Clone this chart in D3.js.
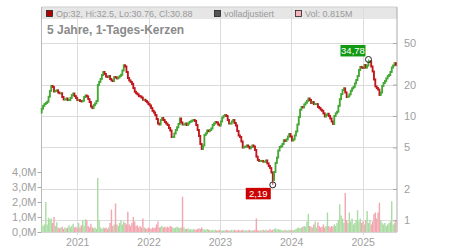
<!DOCTYPE html>
<html>
<head>
<meta charset="utf-8">
<script src="https://cdn.jsdelivr.net/npm/d3@7"></script>
<style>
  body { margin: 0; background: #fff; }
  svg { display: block; font-family: 'Liberation Sans', Arial, sans-serif; }
</style>
</head>
<body>
<div id="chart"></div>
<script>
// weekly closes, first candle week of 2020-07-03
const closes = [
  11.7, 12.5, 13.0, 13.3, 13.7, 15.3, 17.4, 19.4, 19.0, 17.2,
  17.4, 17.6, 16.8, 16.5, 16.5, 15.2, 14.4, 14.4, 14.7, 14.2,
  14.2, 14.9, 15.9, 16.4, 15.5, 14.9, 14.2, 14.2, 13.9, 13.8,
  14.0, 15.2, 15.7, 15.4, 14.5, 13.6, 12.3, 11.9, 12.7, 13.2,
  13.9, 19.8, 21.2, 22.6, 24.7, 26.4, 25.3, 23.9, 23.6, 24.1,
  22.6, 21.9, 21.6, 23.6, 23.4, 22.9, 23.4, 24.1, 24.8, 27.3,
  30.6, 29.8, 26.4, 23.1, 21.9, 21.2, 20.3, 18.5, 17.1, 16.5,
  16.1, 15.5, 15.4, 15.0, 14.3, 14.3, 13.9, 13.5, 13.0, 12.6,
  11.9, 11.2, 10.8, 10.2, 9.36, 8.47, 8.29, 9.15, 9.57, 9.15,
  8.76, 8.47, 8.20, 7.67, 7.26, 6.29, 6.29, 6.80, 7.34, 7.79,
  8.38, 9.46, 8.66, 8.29, 8.29, 8.47, 8.20, 8.47, 8.76, 8.90,
  9.06, 9.15, 8.96, 8.20, 7.34, 6.44, 5.39, 4.83, 5.22, 6.58,
  6.82, 7.26, 7.15, 7.34, 7.59, 8.20, 8.47, 8.76, 8.66, 8.29,
  8.11, 8.86, 9.67, 10.0, 10.2, 10.0, 9.15, 8.47, 8.47, 8.86,
  9.15, 8.57, 8.11, 7.18, 6.51, 6.29, 5.70, 4.99, 5.05, 5.10,
  5.22, 5.08, 4.90, 5.05, 5.22, 5.10, 4.72, 4.08, 3.79, 3.71,
  3.71, 3.71, 3.65, 3.65, 3.75, 3.51, 3.32, 3.17, 2.88, 2.44,
  2.91, 3.55, 4.00, 4.67, 5.05, 5.13, 5.39, 5.85, 5.76, 5.96,
  6.36, 6.72, 6.36, 5.82, 5.96, 6.51, 7.10, 8.29, 9.78, 11.5,
  12.2, 12.1, 12.9, 13.4, 13.9, 14.7, 14.2, 13.3, 13.6, 13.0,
  13.0, 13.0, 12.2, 11.9, 11.5, 11.2, 10.6, 9.89, 10.2, 10.5,
  10.0, 9.46, 8.86, 8.38, 10.0, 10.6, 11.0, 12.5, 14.5, 16.2,
  17.7, 18.4, 16.8, 15.2, 15.4, 16.1, 17.4, 18.4, 19.0, 20.5,
  22.1, 24.1, 27.6, 29.5, 29.1, 28.8, 30.8, 29.1, 30.4, 32.9,
  33.3, 29.8, 26.7, 22.4, 19.2, 18.5, 17.9, 15.9, 16.8, 19.4,
  20.7, 21.6, 22.9, 24.1, 24.7, 26.4, 29.1, 30.4, 32.0, 30.88
];

// volume per candle, millions
const volumes = [
  0.6, 0.4, 0.5, 2.0, 0.5, 0.95, 0.85, 0.9, 0.6, 1.0,
  0.4, 0.65, 0.3, 0.25, 0.3, 0.35, 0.2, 0.3, 0.25, 0.3,
  0.45, 0.3, 0.4, 0.55, 0.3, 0.35, 0.25, 0.6, 0.3, 0.45,
  0.8, 0.4, 0.85, 0.8, 0.4, 0.3, 0.55, 0.3, 0.25, 0.3,
  0.2, 3.6, 0.8, 0.3, 0.2, 0.3, 0.25, 0.3, 0.2, 0.3,
  0.6, 1.5, 0.4, 0.5, 1.9, 0.5, 0.4, 0.6, 0.8, 0.5,
  0.7, 0.6, 0.5, 1.35, 0.5, 0.4, 0.6, 1.0, 0.7, 0.4,
  0.45, 0.3, 0.4, 0.3, 0.9, 0.3, 0.25, 0.2, 0.3, 0.25,
  0.2, 0.3, 0.25, 0.3, 0.5, 0.7, 0.3, 0.35, 0.4, 0.3,
  0.35, 0.3, 0.35, 0.3, 0.4, 0.35, 0.3, 0.25, 0.3, 0.35,
  0.3, 0.25, 0.3, 2.35, 0.3, 0.2, 0.2, 0.25, 0.15, 0.2,
  0.15, 0.2, 0.15, 0.15, 0.2, 0.25, 0.2, 0.3, 0.2, 0.15,
  0.15, 0.2, 0.15, 0.15, 0.1, 0.15, 0.1, 0.15, 0.1, 0.1,
  0.15, 0.1, 0.1, 0.1, 0.1, 0.15, 0.1, 0.1, 0.1, 0.15,
  0.1, 0.15, 0.1, 0.1, 0.15, 0.1, 0.1, 0.15, 0.1, 0.1,
  0.1, 0.1, 0.15, 0.1, 0.1, 0.1, 0.15, 0.9, 0.1, 0.1,
  0.1, 0.1, 0.15, 0.1, 0.15, 0.1, 0.1, 0.2, 0.1, 0.15,
  0.2, 0.25, 0.15, 0.2, 0.15, 0.15, 0.1, 0.1, 0.15, 0.1,
  0.1, 0.15, 0.1, 0.15, 0.1, 0.15, 0.2, 0.25, 0.3, 0.25,
  0.3, 0.35, 0.4, 0.35, 0.7, 1.2, 0.4, 0.35, 0.3, 0.5,
  0.7, 0.3, 0.65, 0.4, 0.3, 0.35, 0.5, 0.3, 0.4, 1.3,
  0.4, 0.3, 0.4, 0.35, 0.5, 0.4, 0.6, 0.8, 1.85, 1.1,
  0.9, 0.6, 2.6, 0.8, 0.6, 1.3, 0.7, 0.9, 0.5, 0.6,
  0.8, 1.45, 0.7, 0.9, 0.6, 0.7, 0.5, 0.8, 1.4, 0.6,
  0.8, 0.5, 0.7, 1.2, 1.3, 0.9, 1.3, 1.95, 0.8, 0.6,
  0.5, 0.6, 0.4, 0.5, 0.6, 0.7, 2.05, 0.5, 0.6, 0.815
];

const firstOpen = 10.8;
const lastCandle = { open: 32, high: 32.5, low: 30.76, close: 30.88, vol: 0.815 };
const lowMark = { index: 169, value: 2.19, label: '2,19' };
const highMark = { index: 239, value: 34.78, label: '34,78' };
const priceTicks = [1, 2, 5, 10, 20, 50];
const volTicks = [0, 1, 2, 3, 4];
const yearTicks = [2021, 2022, 2023, 2024, 2025];
const title = '5 Jahre, 1-Tages-Kerzen';

const totalW = 450, totalH = 250;
const frame = { left: 41.5, right: 397, top: 7, bottom: 232 };

const colors = {
  up: '#44a834', down: '#c0161b',
  volUp: '#a9dca2', volDown: '#f2a6b0',
  grid: '#dcdcdc', axis: '#aaaaaa', label: '#a0a0a0', title: '#8a8a8a'
};

const firstWeek = new Date(2020, 6, 3);
const candles = closes.map((c, i) => {
  const open = i === 0 ? firstOpen : (i === closes.length - 1 ? lastCandle.open : closes[i - 1]);
  let high = Math.max(open, c), low = Math.min(open, c);
  if (i === lowMark.index) low = lowMark.value;
  if (i === highMark.index) high = highMark.value;
  if (i === closes.length - 1) { high = lastCandle.high; low = lastCandle.low; }
  return { date: d3.timeDay.offset(firstWeek, 7 * i), open, close: c, high, low, vol: volumes[i] };
});

const x = d3.scaleTime()
  .domain([new Date(2020, 6, 2), new Date(2025, 5, 26)])
  .range([frame.left, frame.right]);
const y = d3.scaleLog().domain([1, 50]).range([220.4, 43]);
const yVol = d3.scaleLinear().domain([0, 4]).range([frame.bottom, 172]);

const svg = d3.select('#chart').append('svg')
  .attr('width', totalW).attr('height', totalH);

// header band
svg.append('rect')
  .attr('x', frame.left).attr('y', frame.top)
  .attr('width', frame.right - frame.left).attr('height', 12)
  .attr('fill', '#e6e6e6');

// grid
const grid = svg.append('g').attr('stroke', colors.grid).attr('stroke-width', 1);
grid.selectAll('.hg').data(priceTicks).enter().append('line')
  .attr('x1', frame.left).attr('x2', frame.right)
  .attr('y1', d => Math.round(y(d)) + 0.5).attr('y2', d => Math.round(y(d)) + 0.5);
grid.selectAll('.vg').data(yearTicks).enter().append('line')
  .attr('x1', d => Math.round(x(new Date(d, 0, 1))) + 0.5)
  .attr('x2', d => Math.round(x(new Date(d, 0, 1))) + 0.5)
  .attr('y1', frame.top).attr('y2', frame.bottom + 3);

// frame
svg.append('line').attr('x1', frame.left).attr('x2', frame.right)
  .attr('y1', frame.top).attr('y2', frame.top).attr('stroke', '#cfcfcf');
svg.append('line').attr('x1', frame.left).attr('x2', frame.right)
  .attr('y1', frame.bottom + 0.5).attr('y2', frame.bottom + 0.5).attr('stroke', '#d5d5d5');
svg.append('line').attr('x1', frame.left).attr('x2', frame.left)
  .attr('y1', frame.top).attr('y2', frame.bottom).attr('stroke', '#b8b8b8');
svg.append('line').attr('x1', frame.right).attr('x2', frame.right)
  .attr('y1', frame.top).attr('y2', frame.bottom).attr('stroke', colors.axis);

// volume bars
svg.append('g').selectAll('rect')
  .data(candles).enter().append('rect')
  .attr('x', d => x(d.date) - 0.7)
  .attr('width', 1.4)
  .attr('y', d => yVol(d.vol))
  .attr('height', d => frame.bottom - yVol(d.vol))
  .attr('fill', d => d.close >= d.open ? colors.volUp : colors.volDown);

// candles
const cg = svg.append('g').selectAll('g')
  .data(candles).enter().append('g')
  .attr('stroke', d => d.close >= d.open ? colors.up : colors.down);
cg.append('line')
  .attr('x1', d => x(d.date)).attr('x2', d => x(d.date))
  .attr('y1', d => y(d.high)).attr('y2', d => y(d.low))
  .attr('stroke-width', 0.9);
cg.append('line')
  .attr('x1', d => x(d.date)).attr('x2', d => x(d.date))
  .attr('y1', d => y(Math.max(d.open, d.close)) - 1)
  .attr('y2', d => y(Math.min(d.open, d.close)) + 1)
  .attr('stroke-width', 1.8);

// axes
const fmtVol = d => d.toFixed(1).replace('.', ',') + 'M';
const rightAxis = svg.append('g').attr('transform', `translate(${frame.right},0)`)
  .call(d3.axisRight(y).tickValues(priceTicks).tickFormat(d3.format('d')).tickSizeInner(-4).tickSizeOuter(0).tickPadding(7));
const leftAxis = svg.append('g').attr('transform', `translate(${frame.left},0)`)
  .call(d3.axisLeft(yVol).tickValues(volTicks).tickFormat(fmtVol).tickSizeInner(4).tickSizeOuter(0).tickPadding(1));
const bottomAxis = svg.append('g').attr('transform', `translate(0,${frame.bottom})`)
  .call(d3.axisBottom(x).tickValues(yearTicks.map(yr => new Date(yr, 0, 1))).tickFormat(d3.timeFormat('%Y')).tickSize(0).tickPadding(6.5));

[rightAxis, leftAxis, bottomAxis].forEach(ax => {
  ax.select('.domain').remove();
  ax.selectAll('.tick line').attr('stroke', colors.axis);
  ax.selectAll('.tick text')
    .attr('fill', colors.label)
    .attr('font-family', "'Liberation Sans', Arial, sans-serif")
    .attr('font-size', '11px');
});
bottomAxis.selectAll('.tick text').attr('font-size', '10.5px');

// header legend
const legendItems = [
  { x: 46.5, fill: '#b00000', text: `Op:${lastCandle.open}, Hi:${lastCandle.high}, Lo:${lastCandle.low}, Cl:${lastCandle.close}` },
  { x: 214.5, fill: '#555555', text: 'volladjustiert' },
  { x: 295.5, fill: '#f5b3bb', text: `Vol: ${lastCandle.vol}M` }
];
const lg = svg.append('g').selectAll('g').data(legendItems).enter().append('g');
lg.append('rect')
  .attr('x', d => d.x).attr('y', 10.5).attr('width', 6).attr('height', 6)
  .attr('fill', d => d.fill).attr('stroke', '#222').attr('stroke-width', 0.8);
lg.append('text')
  .attr('x', d => d.x + 9.5).attr('y', 17)
  .attr('fill', '#9a9a9a').attr('font-size', '9px')
  .text(d => d.text);

// title
svg.append('text')
  .attr('x', 47).attr('y', 33.5)
  .attr('fill', colors.title).attr('font-size', '12px').attr('font-weight', 'bold')
  .text(title);

// extreme markers
function marker(m, color, above) {
  const cx = x(candles[m.index].date), cy = y(m.value);
  const w = 25, h = 11.5;
  const bx = cx - 3 - w + (above ? 0 : 1), by = above ? cy - 3 - h : cy + 3;
  svg.append('rect').attr('x', bx).attr('y', by).attr('width', w).attr('height', h).attr('fill', color);
  svg.append('text').attr('x', bx + w / 2).attr('y', by + h - 2.3)
    .attr('text-anchor', 'middle').attr('fill', '#fff').attr('font-size', '9.5px')
    .text(m.label);
  svg.append('circle').attr('cx', cx).attr('cy', cy).attr('r', 3)
    .attr('fill', 'none').attr('stroke', '#222').attr('stroke-width', 1);
}
marker(highMark, '#119a11', true);
marker(lowMark, '#cc0000', false);
</script>
</body>
</html>
